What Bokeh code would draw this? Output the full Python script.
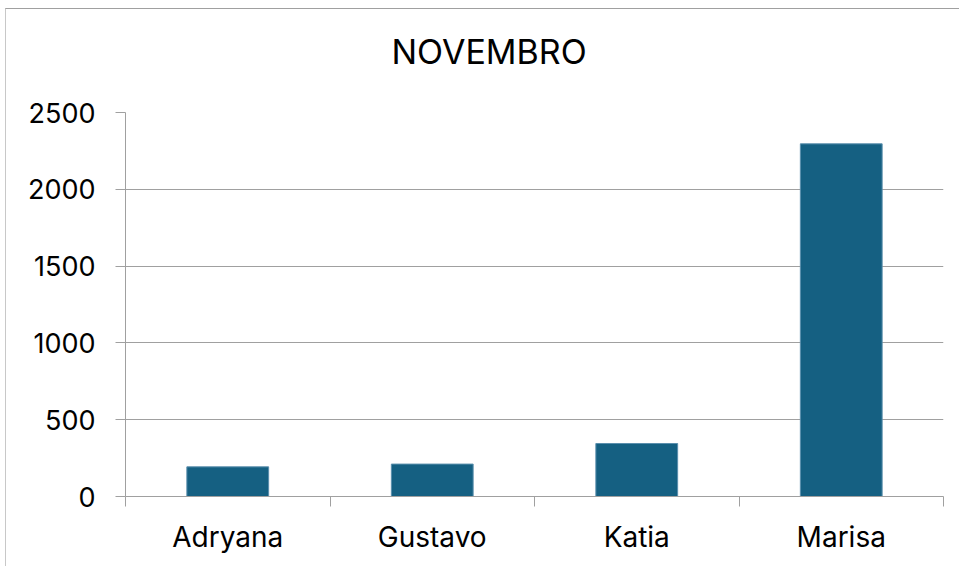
from bokeh.plotting import figure
from bokeh.models import Range1d, FixedTicker, ColumnDataSource
from bokeh.embed import file_html
from bokeh.resources import INLINE

names = ["Adryana", "Gustavo", "Katia", "Marisa"]
values = [193, 211, 345, 2296]
y_ticks = [0, 500, 1000, 1500, 2000, 2500]
title_text = "NOVEMBRO"

positions = [i + 1 for i in range(len(names))]
boundaries = [i + 0.5 for i in range(len(names) + 1)]

FONT = "Inter"
GRID = "#A0A0A0"

p = figure(width=954, height=558, output_backend="svg", toolbar_location=None,
           x_range=Range1d(0.5, len(names) + 0.5), y_range=Range1d(0, 2500),
           min_border_left=119, min_border_right=17, min_border_top=103, min_border_bottom=71)
p.outline_line_color = None
p.background_fill_color = "white"
p.border_fill_color = "white"
p.styles = {"margin-top": "8px", "margin-left": "5px",
            "border-top": "1px solid #A0A0A0", "border-left": "1px solid #C8C8C8"}

# second (empty) line lifts the title away from the plot area
p.title.text = title_text + "\n"
p.title.align = "left"
p.title.vertical_align = "bottom"
p.title.offset = 266
p.title.standoff = 0
p.title.text_font = FONT
p.title.text_font_size = "34px"
p.title.text_font_style = "normal"
p.title.text_color = "#000000"

src = ColumnDataSource(dict(x=positions, top=values, name=names))
p.vbar(x="x", top="top", width=0.4, source=src, fill_color="#156082", line_color="#5A8FAD", line_width=1)

# y axis
p.yaxis.ticker = FixedTicker(ticks=y_ticks)
p.yaxis.axis_line_color = GRID
p.yaxis.major_tick_line_color = GRID
p.yaxis.major_tick_out = 10
p.yaxis.major_tick_in = 0
p.yaxis.minor_tick_line_color = None
p.yaxis.major_label_standoff = 20
p.yaxis.major_label_text_font = FONT
p.yaxis.major_label_text_font_size = "27px"
p.yaxis.major_label_text_color = "#000000"

# x axis
p.xaxis.ticker = FixedTicker(ticks=positions, minor_ticks=boundaries)
p.xaxis.major_label_overrides = {pos: n for pos, n in zip(positions, names)}
p.xaxis.axis_line_color = GRID
p.xaxis.major_tick_line_color = None
p.xaxis.minor_tick_line_color = GRID
p.xaxis.minor_tick_out = 10
p.xaxis.minor_tick_in = 0
p.xaxis.major_label_standoff = 13
p.xaxis.major_label_text_font = FONT
p.xaxis.major_label_text_font_size = "28px"
p.xaxis.major_label_text_color = "#000000"

p.xgrid.grid_line_color = None
p.ygrid.ticker = FixedTicker(ticks=y_ticks)
p.ygrid.grid_line_color = GRID
p.ygrid.grid_line_width = 1

open("out.html", "w").write(file_html(p, INLINE))
